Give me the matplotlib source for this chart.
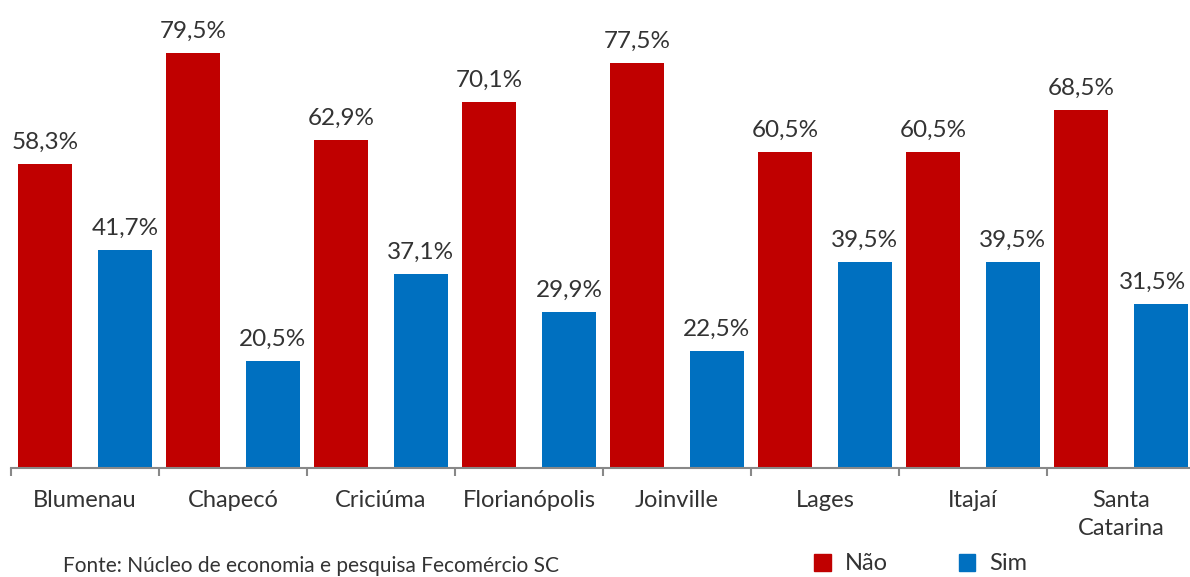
import numpy as np
import matplotlib.pyplot as plt
from matplotlib.patches import Patch

cidades = ["Blumenau", "Chapecó", "Criciúma", "Florianópolis", "Joinville",
           "Lages", "Itajaí", "Santa\nCatarina"]
nao = [58.3, 79.5, 62.9, 70.1, 77.5, 60.5, 60.5, 68.5]
sim = [41.7, 20.5, 37.1, 29.9, 22.5, 39.5, 39.5, 31.5]

vermelho = "#C00000"
azul = "#0070C0"
texto = "#333333"

plt.rcParams["font.family"] = ["Lato", "DejaVu Sans"]

W, H = 1190, 577
fig = plt.figure(figsize=(W / 100, H / 100), dpi=100)
# eixo começa em x=11px, 148px por cidade (a última fica cortada na borda)
ax = fig.add_axes([11 / W, (H - 468) / H, 8 * 148 / W, 468 / H])

x = np.arange(len(cidades))
larg = 0.36
b1 = ax.bar(x - 0.27, nao, larg, color=vermelho)
b2 = ax.bar(x + 0.27, sim, larg, color=azul)

for barras, vals in ((b1, nao), (b2, sim)):
    for b, v in zip(barras, vals):
        # o último rótulo encosta na borda direita
        dx = -6 if b is b2[-1] else 0
        ax.annotate(f"{v:.1f}%".replace(".", ","),
                    (b.get_x() + b.get_width() / 2, v),
                    xytext=(dx, 8), textcoords="offset points",
                    ha="center", va="bottom", fontsize=17.5, color=texto)

ax.set_xlim(-0.5, 7.5)
ax.set_ylim(0, 468 / 5.22)

for s in ("top", "right", "left"):
    ax.spines[s].set_visible(False)
ax.spines["bottom"].set_color("#888888")
ax.spines["bottom"].set_linewidth(1.5)
ax.set_yticks([])

ax.set_xticks(x)
ax.set_xticklabels(cidades, fontsize=17, color=texto, linespacing=1.4)
ax.tick_params(axis="x", which="major", length=0, pad=16)
ax.set_xticks(np.arange(-0.5, 8.0, 1.0), minor=True)
ax.tick_params(axis="x", which="minor", length=6, width=1.5, color="#888888")

fig.legend(handles=[Patch(color=vermelho, label="Não"),
                    Patch(color=azul, label="Sim")],
           loc="center", bbox_to_anchor=(921 / W, 13 / H), ncol=2,
           frameon=False, fontsize=17, handlelength=0.7, handleheight=0.7,
           handletextpad=0.6, columnspacing=3.0, labelcolor=texto)

fig.text(63 / W, 11 / H, "Fonte: Núcleo de economia e pesquisa Fecomércio SC",
         fontsize=15, color=texto, va="center")

fig.savefig("out.png", dpi=100)
